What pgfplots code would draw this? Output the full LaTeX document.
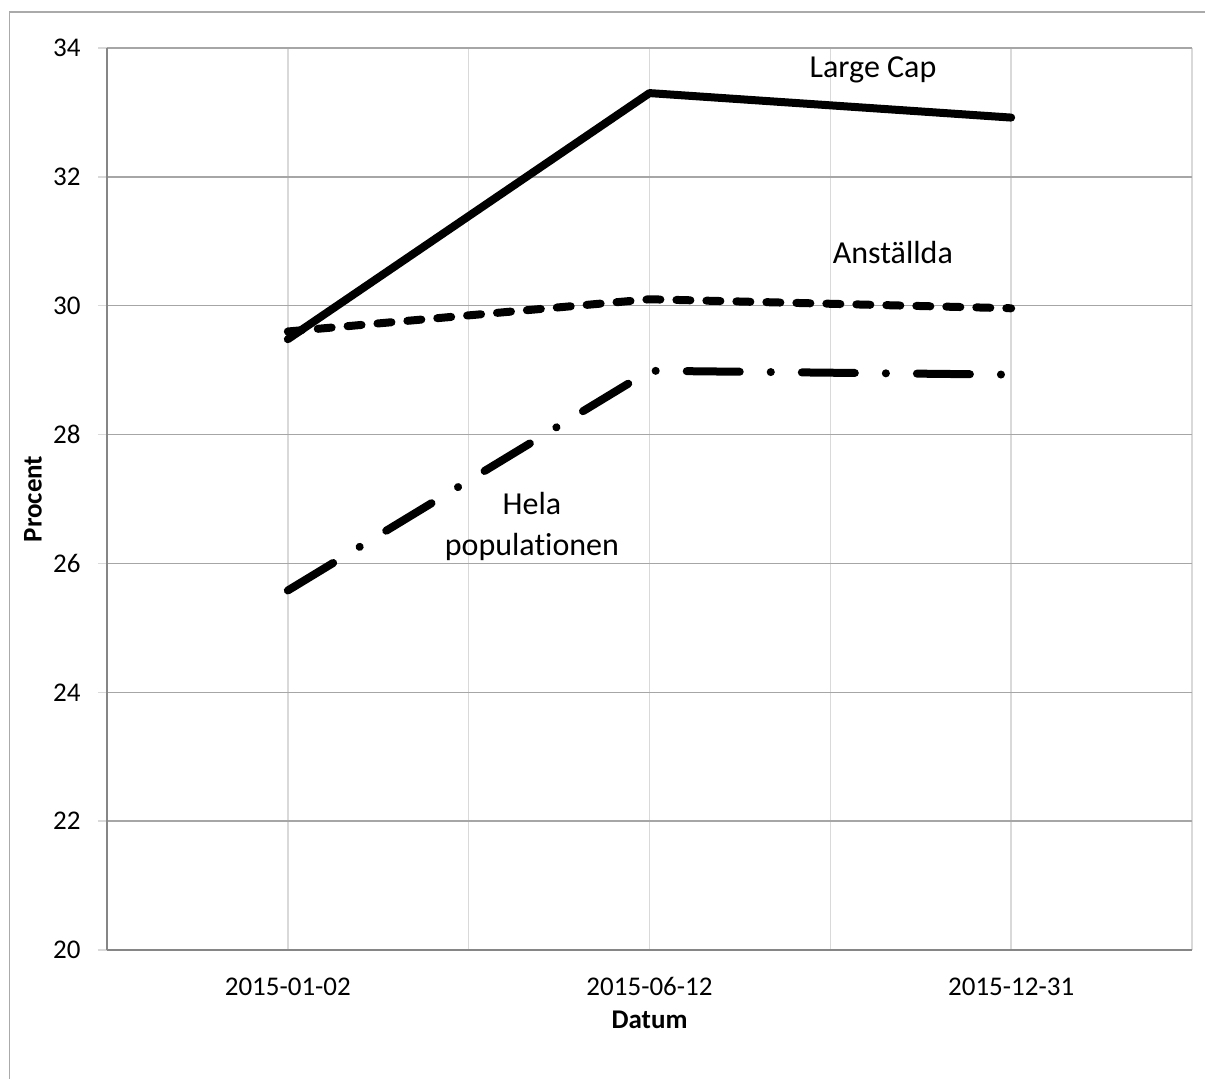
\documentclass[border=0pt]{standalone}
\usepackage{pgfplots}
\pgfplotsset{compat=1.18}
\usepackage{fontspec}
\setmainfont{Carlito}[Ligatures=NoCommon]
\definecolor{gridh}{RGB}{166,166,166}
\definecolor{gridv}{RGB}{217,217,217}
\definecolor{axisc}{RGB}{134,134,134}
\definecolor{framec}{RGB}{170,170,170}
\begin{document}
\begin{tikzpicture}
% 1 px of the reference = 0.5pt
\useasboundingbox (0,0) rectangle (602.5pt,-539.5pt);
\draw[framec, line width=0.75pt] (4.75pt,-539.5pt) -- (4.75pt,-6pt) -- (602.5pt,-6pt);
\begin{axis}[
  at={(53.5pt,-24pt)}, anchor=north west,
  scale only axis,
  width=542.5pt, height=451pt,
  xmin=0, xmax=3, ymin=20, ymax=34,
  axis x line*=bottom, axis y line*=left,
  axis line style={axisc, line width=0.75pt},
  xtick={0.5,1.5,2.5},
  xticklabels={2015-01-02,2015-06-12,2015-12-31},
  minor xtick={1,2,3},
  ytick={20,22,...,34},
  tick align=outside,
  major tick length=4.5pt,
  minor tick length=0pt,
  xtick style={draw=none},
  ytick style={gridv, line width=0.75pt},
  xmajorgrids, xminorgrids, ymajorgrids,
  major x grid style={gridv, line width=0.75pt},
  minor x grid style={gridv, line width=0.75pt},
  major y grid style={gridh, line width=0.75pt},
  /pgf/number format/assume math mode=true,
  tick label style={font=\fontsize{13.5}{16}\selectfont},
  yticklabel style={anchor=east, inner sep=0pt, xshift=-8.5pt},
  xticklabel style={anchor=base, inner sep=0pt, yshift=-18pt},
  xlabel={Datum}, ylabel={Procent},
  every axis y label/.style={at={(axis description cs:-0.0682,0.5)}, anchor=center, rotate=90,
    font=\bfseries\fontsize{13.5}{16}\selectfont},
  every axis x label/.style={at={(axis description cs:0.5,-0.0776)}, anchor=center,
    font=\bfseries\fontsize{13.5}{16}\selectfont},
]
\addplot[black, line width=4pt, line cap=round, line join=round]
  coordinates {(0.5,29.48) (1.5,33.30) (2.5,32.92)};
\addplot[black, line width=4pt, line cap=round, line join=round,
  dash pattern=on 7pt off 8pt]
  coordinates {(0.5,29.60) (1.5,30.10) (2.5,29.96)};
\addplot[black, line width=4pt, line cap=round, line join=round,
  dash pattern=on 26.5pt off 15.5pt on 0.05pt off 15.5pt]
  coordinates {(0.5,25.58) (1.5,28.99) (2.5,28.93)};
\node[font=\fontsize{16}{19}\selectfont] at (axis cs:2.118,33.66) {Large Cap};
\node[font=\fontsize{16}{19}\selectfont] at (axis cs:2.173,30.82) {Anställda};
\node[font=\fontsize{16}{20.5}\selectfont, align=center] at (axis cs:1.175,26.57) {Hela\\populationen};
\end{axis}
\end{tikzpicture}
\end{document}
